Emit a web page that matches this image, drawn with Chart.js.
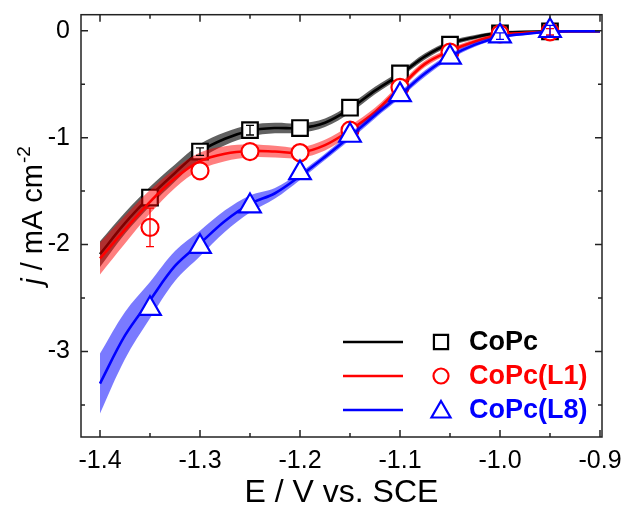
<!DOCTYPE html>
<html>
<head>
<meta charset="utf-8">
<script src="https://cdn.jsdelivr.net/npm/chart.js@4.4.1/dist/chart.umd.min.js"></script>
<style>
html,body{margin:0;padding:0;background:#fff;}
#wrap{width:628px;height:512px;}
</style>
</head>
<body>
<div id="wrap"><canvas id="c" width="628" height="512"></canvas></div>
<script>
// ---- data ----
const potentials = [-1.40, -1.375, -1.35, -1.325, -1.30, -1.275, -1.25, -1.225, -1.20, -1.175, -1.15, -1.125, -1.10, -1.075, -1.05, -1.025, -1.00, -0.975, -0.95, -0.925, -0.90];
const copcLine = [-2.09, -1.80, -1.55, -1.33, -1.13, -1.01, -0.935, -0.91, -0.91, -0.86, -0.73, -0.56, -0.41, -0.24, -0.12, -0.06, -0.02, -0.01, -0.005, -0.005, -0.005];
const copcBand = [0.12, 0.10, 0.09, 0.08, 0.07, 0.06, 0.055, 0.05, 0.045, 0.04, 0.04, 0.035, 0.03, 0.03, 0.025, 0.02, 0.015, 0.01, 0.01, 0.01, 0.01];
const l1Line = [-2.13, -1.86, -1.60, -1.38, -1.22, -1.15, -1.125, -1.13, -1.14, -1.07, -0.93, -0.76, -0.53, -0.31, -0.19, -0.10, -0.04, -0.02, -0.01, -0.005, -0.005];
const l1Band = [0.15, 0.13, 0.11, 0.09, 0.08, 0.07, 0.06, 0.055, 0.05, 0.05, 0.045, 0.04, 0.035, 0.03, 0.025, 0.02, 0.015, 0.01, 0.01, 0.01, 0.01];
const l8Line = [-3.30, -2.85, -2.52, -2.20, -1.99, -1.78, -1.62, -1.52, -1.36, -1.18, -0.99, -0.79, -0.60, -0.40, -0.24, -0.13, -0.06, -0.03, -0.01, -0.005, -0.005];
const l8Band = [0.28, 0.22, 0.17, 0.14, 0.12, 0.10, 0.08, 0.05, 0.035, 0.03, 0.03, 0.03, 0.03, 0.03, 0.025, 0.02, 0.015, 0.01, 0.01, 0.01, 0.01];

const markerPotentials = [-1.35, -1.30, -1.25, -1.20, -1.15, -1.10, -1.05, -1.00, -0.95];
const copcMarkers = [-1.56, -1.13, -0.93, -0.91, -0.72, -0.40, -0.13, -0.025, -0.005];
const copcErr = [0, 0.035, 0.045, 0, 0, 0, 0, 0, 0];
const l1Markers = [-1.84, -1.31, -1.13, -1.14, -0.93, -0.53, -0.20, -0.03, -0.01];
const l1Err = [0.18, 0, 0, 0, 0, 0, 0, 0, 0.03];
const l8Markers = [-2.60, -2.02, -1.64, -1.33, -0.98, -0.60, -0.25, -0.05, 0.0];
const l8Err = [0, 0, 0, 0, 0, 0, 0, 0.03, 0.05];

const seriesNames = ['CoPc', 'CoPc(L1)', 'CoPc(L8)'];
const xTicks = [-1.4, -1.3, -1.2, -1.1, -1.0, -0.9];
const xMinorTicks = [-1.35, -1.25, -1.15, -1.05, -0.95];
const yTicks = [0, -1, -2, -3];
const yMinorTicks = [-0.5, -1.5, -2.5, -3.5];

// ---- styles ----
const FONT = "'Liberation Sans', Arial, Helvetica, sans-serif";
const styles = [
  {line: '#000000', band: 'rgba(0,0,0,0.62)', marker: 'rect', radius: 11},
  {line: '#ff0000', band: 'rgba(255,0,0,0.5)', marker: 'circle', radius: 8.5},
  {line: '#0000ff', band: 'rgba(0,0,255,0.52)', marker: 'triangle', radius: 12.5}
];
const lines = [copcLine, l1Line, l8Line];
const bands = [copcBand, l1Band, l8Band];
const marks = [copcMarkers, l1Markers, l8Markers];
const errs = [copcErr, l1Err, l8Err];

function pts(xs, ys) { return xs.map((x, i) => ({x: x, y: ys[i]})); }

const datasets = [];
for (let s = 2; s >= 0; s--) {
  const st = styles[s];
  datasets.push({
    label: seriesNames[s] + ' markers', data: pts(markerPotentials, marks[s]),
    showLine: false, pointStyle: st.marker, pointRadius: st.radius,
    pointBorderWidth: 2.2, pointBorderColor: st.line, pointBackgroundColor: '#ffffff', borderColor: st.line
  });
  datasets.push({
    label: seriesNames[s], data: pts(potentials, lines[s]),
    borderColor: st.line, borderWidth: 2.6, pointRadius: 0, tension: 0.35, fill: false
  });
  datasets.push({
    label: seriesNames[s] + ' upper', data: pts(potentials, lines[s].map((v, i) => v + bands[s][i])),
    borderWidth: 0, borderColor: 'rgba(0,0,0,0)', pointRadius: 0, tension: 0.35,
    fill: '+1', backgroundColor: st.band
  });
  datasets.push({
    label: seriesNames[s] + ' lower', data: pts(potentials, lines[s].map((v, i) => v - bands[s][i])),
    borderWidth: 0, borderColor: 'rgba(0,0,0,0)', pointRadius: 0, tension: 0.35, fill: false
  });
}

function drawMarker(ctx, type, x, y, r, color) {
  ctx.save();
  ctx.strokeStyle = color; ctx.lineWidth = 2.2; ctx.fillStyle = '#fff';
  ctx.beginPath();
  if (type === 'rect') {
    const h = r * Math.SQRT1_2; ctx.rect(x - h, y - h, 2 * h, 2 * h);
  } else if (type === 'circle') {
    ctx.arc(x, y, r, 0, Math.PI * 2);
  } else {
    ctx.moveTo(x, y - r);
    ctx.lineTo(x + r * 0.866, y + r / 2);
    ctx.lineTo(x - r * 0.866, y + r / 2);
    ctx.closePath();
  }
  ctx.fill(); ctx.stroke();
  ctx.restore();
}

const decor = {
  id: 'decor',
  afterDatasetsDraw(chart) {
    const ctx = chart.ctx, xs = chart.scales.x, ys = chart.scales.y, a = chart.chartArea;
    // error bars
    for (let s = 0; s < 3; s++) {
      ctx.save();
      ctx.strokeStyle = styles[s].line; ctx.lineWidth = 1.3;
      markerPotentials.forEach((p, i) => {
        if (!errs[s][i]) return;
        const px = xs.getPixelForValue(p);
        const y1 = ys.getPixelForValue(marks[s][i] - errs[s][i]);
        const y2 = ys.getPixelForValue(marks[s][i] + errs[s][i]);
        ctx.beginPath();
        ctx.moveTo(px, y1); ctx.lineTo(px, y2);
        ctx.moveTo(px - 4, y1); ctx.lineTo(px + 4, y1);
        ctx.moveTo(px - 4, y2); ctx.lineTo(px + 4, y2);
        ctx.stroke();
      });
      ctx.restore();
    }
    // frame
    ctx.save();
    ctx.strokeStyle = '#222'; ctx.lineWidth = 1.5;
    ctx.strokeRect(a.left, a.top, a.right - a.left, a.bottom - a.top);
    ctx.beginPath();
    const tick = (v, len, horiz) => {
      if (horiz) {
        const px = xs.getPixelForValue(v);
        ctx.moveTo(px, a.bottom); ctx.lineTo(px, a.bottom - len);
        ctx.moveTo(px, a.top); ctx.lineTo(px, a.top + len);
      } else {
        const py = ys.getPixelForValue(v);
        ctx.moveTo(a.left, py); ctx.lineTo(a.left + len, py);
        ctx.moveTo(a.right, py); ctx.lineTo(a.right - len, py);
      }
    };
    xTicks.forEach(v => tick(v, 7, true));
    xMinorTicks.forEach(v => tick(v, 4, true));
    yTicks.forEach(v => tick(v, 7, false));
    yMinorTicks.forEach(v => tick(v, 4, false));
    ctx.stroke();
    ctx.restore();

    // legend
    const rows = [342, 376, 410];
    const lsizes = [10, 7.5, 11];
    for (let s = 0; s < 3; s++) {
      const y = rows[s];
      ctx.save();
      ctx.strokeStyle = styles[s].line; ctx.lineWidth = 2.6;
      ctx.beginPath(); ctx.moveTo(343, y); ctx.lineTo(403, y); ctx.stroke();
      ctx.restore();
      drawMarker(ctx, styles[s].marker, 441, s === 2 ? y + 2 : y, lsizes[s], styles[s].line);
      ctx.save();
      ctx.fillStyle = styles[s].line;
      ctx.font = 'bold 27px ' + FONT;
      ctx.textBaseline = 'middle'; ctx.textAlign = 'left';
      ctx.fillText(seriesNames[s], 469, y + 1);
      ctx.restore();
    }

    // y-axis title: j / mA cm^-2
    ctx.save();
    ctx.translate(42, 216);
    ctx.rotate(-Math.PI / 2);
    ctx.fillStyle = '#000';
    ctx.textBaseline = 'alphabetic'; ctx.textAlign = 'left';
    const fMain = '29px ' + FONT, fIt = 'italic 29px ' + FONT, fSup = '19px ' + FONT;
    ctx.font = fIt; const w1 = ctx.measureText('j').width;
    ctx.font = fMain; const w2 = ctx.measureText(' / mA cm').width;
    ctx.font = fSup; const w3 = ctx.measureText('-2').width;
    let x0 = -(w1 + w2 + w3) / 2;
    ctx.font = fIt; ctx.fillText('j', x0, 0); x0 += w1;
    ctx.font = fMain; ctx.fillText(' / mA cm', x0, 0); x0 += w2;
    ctx.font = fSup; ctx.fillText('-2', x0 + 1, -12);
    ctx.restore();
  }
};

new Chart(document.getElementById('c'), {
  type: 'line',
  data: {datasets: datasets},
  options: {
    responsive: false,
    animation: false,
    layout: {padding: {left: 0, right: 26, top: 13, bottom: 0}},
    plugins: {legend: {display: false}, tooltip: {enabled: false}, filler: {propagate: false}},
    scales: {
      x: {
        type: 'linear', min: -1.419, max: -0.898,
        grid: {display: false, drawTicks: false}, border: {display: false},
        afterBuildTicks: (sc) => { sc.ticks = xTicks.map(v => ({value: v})); },
        afterFit: (sc) => { sc.height = 75; sc.paddingLeft = 0; sc.paddingRight = 0; },
        ticks: {
          autoSkip: false, maxRotation: 0, padding: 9, color: '#000',
          font: {size: 25, family: FONT},
          callback: (v) => Number(v).toFixed(1)
        },
        title: {display: true, text: 'E / V vs. SCE', color: '#000', font: {size: 32, family: FONT}, padding: {top: 0, bottom: 0}}
      },
      y: {
        type: 'linear', min: -3.8, max: 0.15,
        grid: {display: false, drawTicks: false}, border: {display: false},
        afterBuildTicks: (sc) => { sc.ticks = yTicks.map(v => ({value: v})); },
        afterFit: (sc) => { sc.width = 81; sc.paddingTop = 0; sc.paddingBottom = 0; },
        ticks: {
          autoSkip: false, padding: 11, color: '#000',
          font: {size: 25, family: FONT},
          callback: (v) => String(Math.round(v))
        }
      }
    }
  },
  plugins: [decor]
});
</script>
</body>
</html>
